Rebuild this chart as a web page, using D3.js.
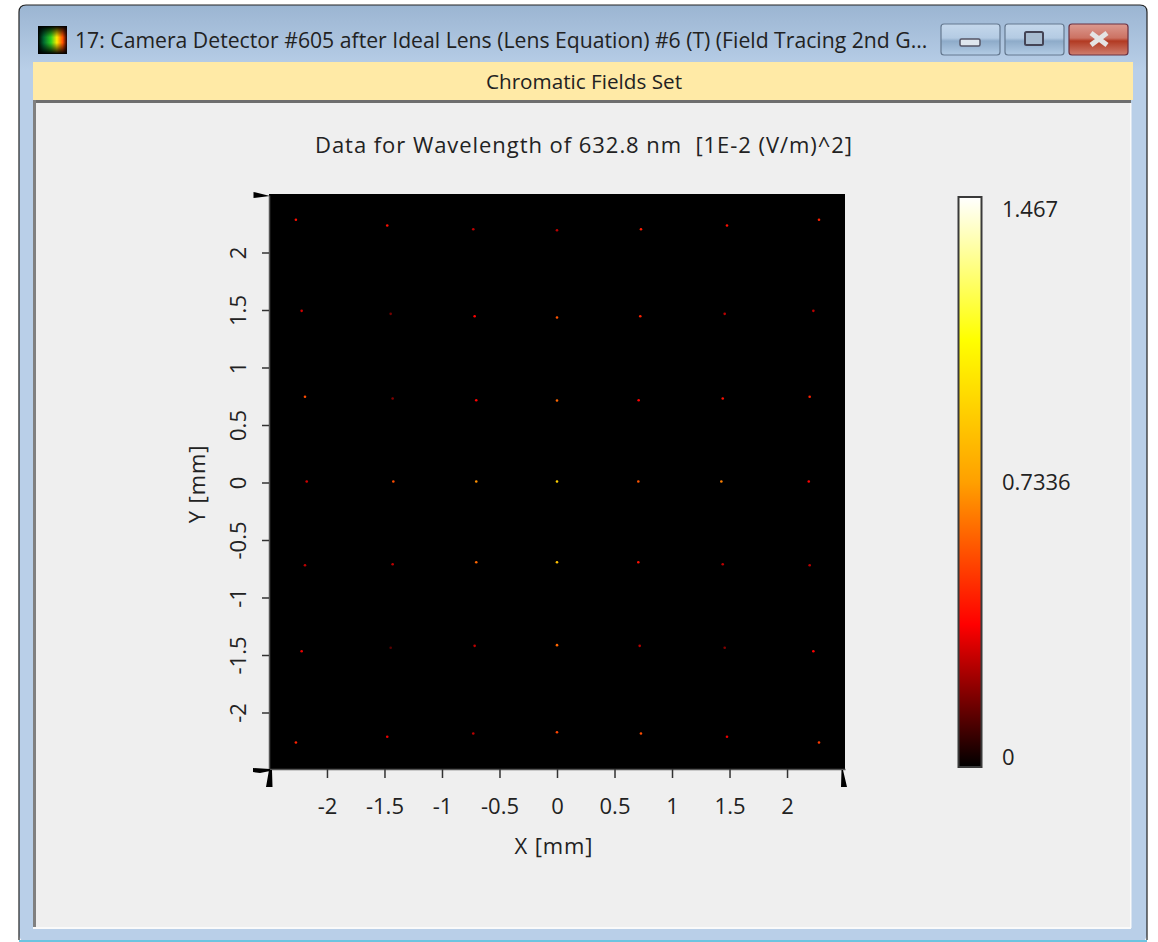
<!DOCTYPE html>
<html>
<head>
<meta charset="utf-8">
<script src="https://cdn.jsdelivr.net/npm/d3@7"></script>
<style>
  html, body { margin: 0; padding: 0; background: #fff; }
  svg { display: block; }
  text { font-family: "Open Sans", sans-serif; fill: #222; white-space: pre; }
</style>
</head>
<body>
<script>
// spot positions in mm, one array per row of the spot grid (top to bottom)
const spotX = [
  [-2.27, -1.476, -0.728, 0, 0.73, 1.478, 2.278],
  [-2.22, -1.446, -0.716, 0, 0.724, 1.458, 2.229],
  [-2.191, -1.429, -0.702, 0, 0.71, 1.441, 2.197],
  [-2.176, -1.423, -0.702, 0, 0.707, 1.429, 2.189],
  [-2.191, -1.429, -0.702, 0, 0.707, 1.441, 2.197],
  [-2.22, -1.446, -0.716, 0, 0.719, 1.458, 2.229],
  [-2.27, -1.476, -0.728, 0, 0.73, 1.478, 2.278]
];
const spotY = [
  [2.276, 2.226, 2.193, 2.185, 2.193, 2.226, 2.276],
  [1.484, 1.458, 1.437, 1.426, 1.437, 1.458, 1.484],
  [0.737, 0.722, 0.707, 0.704, 0.707, 0.722, 0.737],
  [0, 0, 0, 0, 0, 0, 0],
  [-0.728, -0.719, -0.702, -0.702, -0.702, -0.719, -0.728],
  [-1.476, -1.446, -1.429, -1.423, -1.429, -1.446, -1.476],
  [-2.27, -2.22, -2.191, -2.18, -2.191, -2.22, -2.27]
];
const spotValue = [
  [0.40, 0.40, 0.27, 0.27, 0.43, 0.40, 0.44],
  [0.30, 0.17, 0.37, 0.56, 0.44, 0.27, 0.27],
  [0.54, 0.19, 0.37, 0.60, 0.37, 0.40, 0.44],
  [0.30, 0.54, 0.70, 0.92, 0.56, 0.66, 0.37],
  [0.27, 0.27, 0.60, 0.86, 0.40, 0.27, 0.27],
  [0.34, 0.13, 0.27, 0.60, 0.27, 0.19, 0.37],
  [0.44, 0.34, 0.27, 0.52, 0.54, 0.34, 0.50]
];
const ticks = [-2, -1.5, -1, -0.5, 0, 0.5, 1, 1.5, 2];
const colorMax = 1.467;
const colorStops = [0, 0.36675, 0.7336, 1.10025, 1.467];
const colorRange = ["#000000", "#ff0000", "#ffa000", "#ffff00", "#ffffff"];
const colorLabels = ["0", "0.7336", "1.467"];
const titleText = "17: Camera Detector #605 after Ideal Lens (Lens Equation) #6 (T) (Field Tracing 2nd G...";
const barText = "Chromatic Fields Set";
const chartTitle = "Data for Wavelength of 632.8 nm  [1E-2 (V/m)^2]";

const svg = d3.select("body").append("svg").attr("width", 1158).attr("height", 942);
const defs = svg.append("defs");

function gradient(id, stops, horizontal) {
  const g = defs.append("linearGradient").attr("id", id)
    .attr("x1", 0).attr("y1", 0).attr("x2", horizontal ? 1 : 0).attr("y2", horizontal ? 0 : 1);
  stops.forEach(s => {
    const st = g.append("stop").attr("offset", s[0]).attr("stop-color", s[1]);
    if (s[2] !== undefined) st.attr("stop-opacity", s[2]);
  });
}
gradient("frame", [[0, "#9bb5d2"], [0.07, "#b9cfe8"], [1, "#b9cfe8"]]);
gradient("btn", [[0, "#c5d8ec"], [0.45, "#b4cbe3"], [0.55, "#8eabc9"], [1, "#b3cce5"]]);
gradient("close", [[0, "#dc9a90"], [0.45, "#cc7263"], [0.55, "#b23a22"], [1, "#cf7f70"]]);
gradient("iconH", [[0, "#000"], [0.2, "#006a30"], [0.45, "#30d020"], [0.65, "#ffe800"], [0.85, "#ff5000"], [1, "#200000"]], true);
gradient("iconV", [[0, "#000", 1], [0.4, "#000", 0], [0.6, "#000", 0], [1, "#000", 1]]);

// window frame
svg.append("rect").attr("x", 19).attr("y", 5).attr("width", 1128).attr("height", 936)
  .attr("rx", 6).attr("fill", "url(#frame)");
svg.append("path").attr("d", "M19 940V12Q19 5 26 5H1140Q1147 5 1147 12V940")
  .attr("fill", "none").attr("stroke", "#222").attr("stroke-width", 1.2);
svg.append("rect").attr("x", 19).attr("y", 940).attr("width", 1128).attr("height", 2).attr("fill", "#6cc4e0");

// title bar
svg.append("rect").attr("x", 38).attr("y", 26).attr("width", 29).attr("height", 28).attr("fill", "url(#iconH)");
svg.append("rect").attr("x", 38).attr("y", 26).attr("width", 29).attr("height", 28).attr("fill", "url(#iconV)");
svg.append("text").attr("x", 75).attr("y", 48).attr("font-size", 21.2).attr("fill", "#1c1c30").text(titleText);
[[941, "url(#btn)"], [1005, "url(#btn)"], [1069, "url(#close)"]].forEach(b => {
  svg.append("rect").attr("x", b[0]).attr("y", 24).attr("width", 59).attr("height", 31).attr("rx", 3)
    .attr("fill", b[1]).attr("stroke", b[1] === "url(#close)" ? "#6a3040" : "#64788f").attr("stroke-width", 1.2);
});
svg.append("rect").attr("x", 960).attr("y", 39).attr("width", 20).attr("height", 7).attr("rx", 1.5)
  .attr("fill", "#dfe6ee").attr("stroke", "#556").attr("stroke-width", 1.5);
svg.append("rect").attr("x", 1025).attr("y", 32).attr("width", 18).attr("height", 13).attr("rx", 1.5)
  .attr("fill", "#a8bcd0").attr("stroke", "#445").attr("stroke-width", 2);
svg.append("path").attr("d", "M1091 33L1107 45M1107 33L1091 45").attr("stroke", "#e4e4e4")
  .attr("stroke-width", 5).attr("fill", "none");

// yellow strip and panel
svg.append("rect").attr("x", 33).attr("y", 62).attr("width", 1100).attr("height", 38).attr("fill", "#ffeaa6");
svg.append("rect").attr("x", 33).attr("y", 100).attr("width", 1098).attr("height", 829).attr("fill", "#efefef");
svg.append("rect").attr("x", 33).attr("y", 100).attr("width", 1098).attr("height", 3).attr("fill", "#6e6e6e");
svg.append("rect").attr("x", 33).attr("y", 100).attr("width", 3).attr("height", 827).attr("fill", "#808080");
svg.append("rect").attr("x", 33).attr("y", 927).attr("width", 1098).attr("height", 2).attr("fill", "#fafafa");
svg.append("rect").attr("x", 1130).attr("y", 103).attr("width", 1.5).attr("height", 825).attr("fill", "#fafafa");
svg.append("text").attr("x", 584).attr("y", 89).attr("text-anchor", "middle").attr("font-size", 20.7).text(barText);
svg.append("text").attr("x", 584).attr("y", 153).attr("text-anchor", "middle").attr("font-size", 22)
  .attr("letter-spacing", 0.95).text(chartTitle);

// plot
const x = d3.scaleLinear().domain([-2.504, 2.504]).range([269, 845]);
const y = d3.scaleLinear().domain([-2.5, 2.5]).range([769, 194]);
const color = d3.scaleLinear().domain(colorStops).range(colorRange);

svg.append("rect").attr("x", x(-2.504)).attr("y", y(2.5)).attr("width", x(2.504) - x(-2.504))
  .attr("height", y(-2.5) - y(2.5)).attr("fill", "#000");

const spots = [];
spotX.forEach((row, i) => row.forEach((v, j) => spots.push({ x: v, y: spotY[i][j], v: spotValue[i][j] })));
svg.append("g").selectAll("circle").data(spots).join("circle")
  .attr("cx", d => x(d.x)).attr("cy", d => y(d.y)).attr("r", 1.3)
  .attr("fill", d => color(d.v));

const xAxis = svg.append("g").attr("transform", "translate(0,769)")
  .call(d3.axisBottom(x).tickValues(ticks).tickFormat(String).tickSize(9).tickSizeOuter(0));
const yAxis = svg.append("g").attr("transform", "translate(269,1)")
  .call(d3.axisLeft(y).tickValues(ticks).tickFormat(String).tickSize(7).tickSizeOuter(0));
[xAxis, yAxis].forEach(a => {
  a.select(".domain").attr("stroke", "#555").attr("stroke-width", 1.5);
  a.selectAll(".tick line").attr("stroke", "#333").attr("stroke-width", 1.5);
  a.selectAll(".tick text").attr("font-size", 22).attr("font-family", '"Open Sans", sans-serif').attr("fill", "#222");
});
xAxis.selectAll(".tick text").attr("y", 45).attr("dy", 0);
yAxis.selectAll(".tick text").attr("text-anchor", "middle").attr("dy", 0)
  .attr("transform", "translate(-31,0) rotate(-90)").attr("x", 0).attr("y", 8);

// corner wedges of the axes
svg.append("path").attr("fill", "#000")
  .attr("d", "M253.5 192L270 196L253.5 198Z M253 768L270 769L270 771L260 773L253 772Z M269 770L272 770L272.5 787L266 787Z M841.5 770L843 770L847 787L841 787Z");

svg.append("text").attr("x", 554).attr("y", 854).attr("text-anchor", "middle").attr("font-size", 22)
  .attr("letter-spacing", 0.9).text("X [mm]");
svg.append("text").attr("transform", "translate(205,484) rotate(-90)").attr("text-anchor", "middle")
  .attr("font-size", 22).attr("letter-spacing", 0.9).text("Y [mm]");

// colour bar
const cbar = d3.scaleLinear().domain([0, colorMax]).range([767, 197]);
const cg = defs.append("linearGradient").attr("id", "cbar").attr("x1", 0).attr("y1", 1).attr("x2", 0).attr("y2", 0);
colorStops.forEach((s, i) => cg.append("stop").attr("offset", s / colorMax).attr("stop-color", colorRange[i]));
svg.append("rect").attr("x", 958.5).attr("y", cbar(colorMax)).attr("width", 23)
  .attr("height", cbar(0) - cbar(colorMax)).attr("fill", "url(#cbar)").attr("stroke", "#3a3a3a").attr("stroke-width", 2);
const labelY = { "0": 765, "0.7336": 490, "1.467": 217 };
colorLabels.forEach(l => {
  svg.append("text").attr("x", 1002).attr("y", labelY[l]).attr("font-size", 22).text(l);
});
</script>
</body>
</html>
